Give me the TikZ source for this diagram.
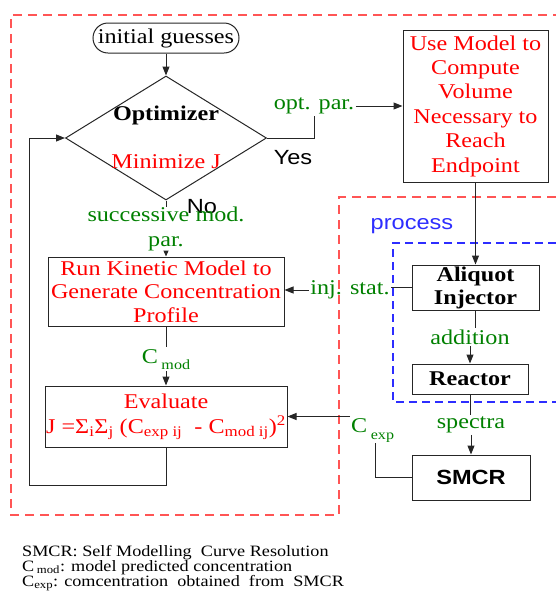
\documentclass[tikz,border=0pt]{standalone}
\usepackage{fontspec}
\setmainfont{Liberation Serif}[FakeStretch=1.15]
\newfontfamily\sansf{Liberation Sans}[FakeStretch=1.15]
\usetikzlibrary{shapes.geometric,arrows.meta}

\definecolor{framered}{RGB}{255,85,85}
\definecolor{procblue}{RGB}{45,45,255}
\definecolor{labgreen}{RGB}{0,128,0}

\tikzset{
  txt/.style={font=\fontsize{21}{24.4}\selectfont},
  boldtxt/.style={font=\fontsize{21}{23}\selectfont\bfseries},
  sanstxt/.style={font=\sansf\fontsize{20.5}{24}\selectfont},
  box/.style={draw=black!85, line width=1pt, fill=white, inner sep=0pt, align=center},
  lab/.style={text=labgreen, txt, inner sep=1.5pt, align=center},
  wire/.style={line width=1pt, draw=black!85},
  arr/.style={wire, -{Triangle[length=9pt,width=7pt]}},
  smallarr/.style={wire, -{Triangle[length=6pt,width=5pt]}},
  legendtxt/.style={anchor=base west, inner sep=0pt, font=\fontsize{15.8}{15}\selectfont},
  redframe/.style={draw=framered, line width=1.4pt, dash pattern=on 9pt off 6pt},
  blueframe/.style={draw=procblue, line width=1.2pt, dash pattern=on 8pt off 5pt},
}

\begin{document}
\begin{tikzpicture}[x=1pt,y=-1pt]
\useasboundingbox (0,0) rectangle (556,595);

% dashed frames
\draw[redframe]
  (556,197) -- (339,197) -- (339,515) -- (11,515) -- (11,15) -- (556,15);
\draw[blueframe]
  (556,243) -- (393,243) -- (393,402) -- (556,402);
\node[text=procblue, sanstxt] (proc) at (412,226) {process};

% optimisation loop
\node[draw=black!85, line width=1pt, rounded corners=15pt, minimum width=146pt,
      minimum height=30pt, inner sep=0pt, txt] (init) at (166,38) {initial guesses};
\node[draw=black!85, line width=1pt, diamond, shape aspect=1.62, minimum width=201pt,
      minimum height=124pt, inner sep=0pt] (opt) at (166,138) {};
\node[boldtxt] (optname) at (166,115) {Optimizer};
\node[txt, text=red] (optgoal) at (166,162) {Minimize J};
\node[sanstxt] (yes) at (293,158) {Yes};
\node[sanstxt] (no) at (202,207) {No};

\node[box, txt, text=red, minimum width=145pt, minimum height=152pt] (usemodel) at (475.5,106)
  {Use Model to\\Compute\\Volume\\Necessary to\\Reach\\Endpoint};

\node[box, text=red, font=\fontsize{21}{23.4}\selectfont, minimum width=236pt, minimum height=69pt] (run) at (166,291.5)
  {Run Kinetic Model to\\Generate Concentration\\Profile};

\node[box, text=red, font=\fontsize{21}{25}\selectfont, minimum width=242pt, minimum height=61pt] (eval) at (166,416.5)
  {Evaluate\\J =Σ\textsubscript{i}Σ\textsubscript{j} (C\textsubscript{exp ij}\ \ - C\textsubscript{mod ij})\textsuperscript{2}};

% process side
\node[box, boldtxt, minimum width=127pt, minimum height=45pt] (aliq) at (475.5,287.5) {Aliquot\\Injector};
\node[box, boldtxt, minimum width=116pt, minimum height=30pt] (reactor) at (470,379) {Reactor};
\node[box, font=\sansf\bfseries\fontsize{20.5}{24}\selectfont, minimum width=118pt, minimum height=45pt] (smcr) at (471,477.5) {SMCR};

% connector labels
\node[lab] (optpar) at (314,106) {opt. par.};
\node[lab, inner sep=0pt, font=\fontsize{21}{25}\selectfont] (succ) at (166,229) {successive mod.\\par.};
\node[lab] (injstat) at (350,290) {inj. stat.};
\node[lab] (addition) at (470,337) {addition};
\node[lab] (spectra) at (471,425) {spectra};
\node[lab, anchor=base, inner sep=2pt] (cmod) at (166,363) {C\,\raisebox{-6pt}{\fontsize{14}{14}\selectfont mod}};
\node[lab, anchor=base west, inner sep=1pt] (cexp) at (350,432) {C\,\raisebox{-7pt}{\fontsize{14}{14}\selectfont exp}};
\coordinate (cexpfoot) at (375,443);
\coordinate (fb) at (29,485);

% connectors
\draw[arr] (init) -- (opt);
\draw[wire] (opt.east) -| (optpar.south);
\draw[arr] (optpar.east) -- (usemodel.west);
\draw[arr] (usemodel) -- (aliq);
\draw[wire] (aliq.south) -- (aliq.south |- addition.north);
\draw[arr] (addition.south) -- (addition.south |- reactor.north);
\draw[wire] (reactor.south) -- (reactor.south |- spectra.north);
\draw[arr] (spectra.south) -- (spectra.south |- smcr.north);
\draw[wire] (aliq.west) -- (aliq.west -| injstat.east);
\draw[arr] (injstat.west) -- (injstat.west -| run.east);
\draw[wire] (smcr.west) -| (cexpfoot);
\draw[arr] (cexp.west |- eval.east) -- (eval.east);
\draw[wire] (opt.south) -- (succ.north);
\draw[smallarr] (succ.south) -- (run.north);
\draw[wire] (run.south) -- (cmod.north);
\draw[arr] (cmod.south) -- (eval.north);
\draw[arr] (eval.south) |- (fb) |- (opt.west);

% legend
\node[legendtxt] (leg1) at (22,556) {SMCR: Self Modelling\ \ Curve Resolution};
\node[legendtxt] (leg2) at (22,571) {C\,\textsubscript{mod}: model predicted concentration};
\node[legendtxt] (leg3) at (22,586) {C\textsubscript{exp}: comcentration\ \ obtained\ \ from\ \ SMCR};
\end{tikzpicture}
\end{document}
